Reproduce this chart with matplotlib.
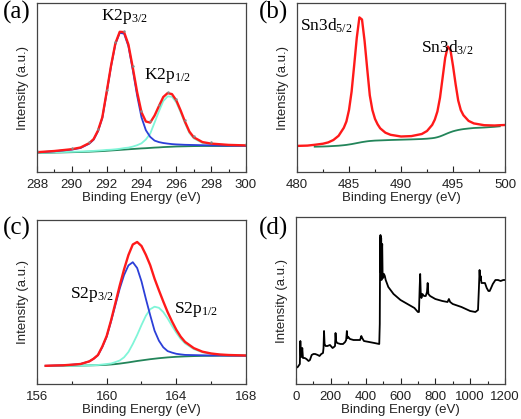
import numpy as np
import matplotlib
matplotlib.use("Agg")
import matplotlib.pyplot as plt
from matplotlib.ticker import MultipleLocator

plt.rcParams['font.family'] = 'Liberation Sans'
plt.rcParams['mathtext.fontset'] = 'custom'
plt.rcParams['mathtext.rm'] = 'Liberation Serif'
plt.rcParams['mathtext.it'] = 'Liberation Serif'

# ---- (a) K 2p ----
k_energy = [288, 289, 290, 290.5, 291, 291.25, 291.5, 291.75, 292, 292.25, 292.5, 292.75,
            293, 293.25, 293.5, 293.75, 294, 294.25, 294.5, 294.75, 295, 295.25, 295.5,
            295.75, 296, 296.25, 296.5, 296.75, 297, 297.5, 298, 299, 300]
k_bg = [19, 19.4, 19.8, 20, 20.3, 20.5, 20.7, 20.9, 21.2, 21.5, 21.8, 22.1,
        22.4, 22.7, 23, 23.3, 23.6, 23.8, 24.1, 24.4, 24.6, 24.9, 25.1,
        25.3, 25.5, 25.6, 25.7, 25.8, 25.9, 26, 26, 26, 26]
k_p32 = [0.6, 1.3, 2.6, 4.0, 8.0, 11.8, 20, 33, 58, 84, 106, 117,
         116, 103, 79, 53, 31, 18, 11, 7, 5.3, 4.1, 3.3,
         2.6, 2.1, 1.8, 1.5, 1.3, 1.1, 0.8, 0.6, 0.3, 0.2]
k_p12 = [0.2, 0.3, 0.4, 0.5, 0.6, 0.6, 0.7, 0.8, 0.9, 0.8, 0.9, 1.1,
         1.5, 1.7, 2.4, 3.5, 5.1, 8.7, 14.3, 25, 36, 46, 50.5,
         50, 44, 34, 23, 13.3, 7.7, 3.1, 1.8, 0.8, 0.4]

# ---- (b) Sn 3d ----
sn_energy = [480, 481, 481.7, 482.5, 483, 483.5, 484, 484.5, 484.75, 485, 485.25, 485.5,
             485.75, 486, 486.25, 486.5, 486.75, 487, 487.25, 487.5, 487.75, 488, 488.5,
             489, 490, 491, 492, 492.5, 493, 493.25, 493.5, 493.75, 494, 494.25, 494.5,
             494.75, 495, 495.25, 495.5, 495.75, 496, 496.5, 497, 498, 499, 499.5, 500]
sn_bg = [25, 25, 25.3, 25.5, 25.7, 26, 26.3, 26.8, 27.1, 27.5, 27.9, 28.4,
         28.9, 29.4, 29.9, 30.3, 30.7, 31, 31.2, 31.4, 31.5, 31.6, 31.8,
         32, 32.3, 32.6, 33, 33.3, 33.8, 34.2, 34.8, 35.6, 36.6, 37.7, 38.8,
         39.8, 40.7, 41.4, 42, 42.5, 42.9, 43.5, 44, 44.5, 45.2, 45.7, 46]
sn_d52 = [0.9, 1.2, 1.6, 2.5, 3.6, 5.6, 9.5, 17, 23, 34, 52, 78,
          105, 124.7, 122, 100, 72, 45, 30, 21, 15.5, 11.3, 6.6,
          4.2, 2.1, 1.4, 1, 0.9, 0.8, 0.7, 0.7, 0.7, 0.6, 0.6, 0.6,
          0.5, 0.5, 0.5, 0.5, 0.4, 0.4, 0.4, 0.3, 0.3, 0.2, 0.2, 0.2]
sn_d32 = [0.2, 0.2, 0.3, 0.3, 0.3, 0.4, 0.4, 0.4, 0.4, 0.5, 0.5, 0.5,
          0.5, 0.5, 0.6, 0.6, 0.6, 0.6, 0.7, 0.7, 0.7, 0.8, 0.9,
          1.0, 1.1, 1.9, 4.0, 6.8, 12.5, 17.5, 25, 38, 57, 76, 86,
          82, 65, 46, 29, 19, 13.5, 7.2, 4.3, 2.0, 1.1, 0.9, 0.8]

# ---- (c) S 2p ----
s_energy = [156.5, 157, 157.5, 158, 158.5, 159, 159.25, 159.5, 159.75, 160, 160.25, 160.5,
            160.75, 161, 161.25, 161.5, 161.75, 162, 162.25, 162.5, 162.75, 163, 163.25,
            163.5, 163.75, 164, 164.25, 164.5, 165, 165.5, 166, 166.5, 167, 168]
s_bg = [18, 18.1, 18.2, 18.3, 18.4, 18.6, 18.7, 18.8, 19, 19.2, 19.5, 19.9,
        20.4, 21, 21.6, 22.3, 23, 23.6, 24.2, 24.8, 25.3, 25.8, 26.2,
        26.6, 26.9, 27.2, 27.4, 27.6, 27.9, 28.1, 28.2, 28.3, 28.3, 28.3]
s_p32 = [0.2, 0.4, 0.5, 1.0, 1.6, 4.0, 6.5, 10, 18, 28, 43, 59,
         75, 88, 97, 99.5, 93, 79, 61, 44, 28, 17.5, 10.5,
         6.3, 4.5, 3, 2.2, 1.5, 1.0, 0.6, 0.3, 0.2, 0.1, 0]
s_p12 = [0, 0, 0, 0, 0, 0, 0.1, 0.2, 0.5, 0.8, 1.0, 2.0,
         3.1, 5.7, 10.4, 17.7, 26, 35.4, 44, 50, 52, 50.4, 45.8,
         39, 31.2, 24, 17.7, 13, 7, 3.6, 2, 1, 0.6, 0.2]

# ---- (d) survey ----
sv_energy = [0, 10, 18, 22, 25, 28, 32, 36, 40, 50, 60, 72, 80, 90, 100, 110, 125, 135,
             145, 155, 158, 161, 164, 170, 180, 195, 210, 218, 224, 227, 230, 236, 255,
             270, 282, 288, 292, 295, 300, 310, 330, 350, 368, 375, 380, 390, 420, 450,
             478, 481, 483, 485, 486, 487, 488, 489, 491, 493, 495, 497, 500, 505, 510,
             515, 530, 560, 600, 640, 680, 700, 706, 710, 713, 716, 720, 726, 735, 745,
             752, 756, 760, 770, 800, 840, 870, 878, 885, 900, 950, 1000, 1030, 1045,
             1050, 1054, 1057, 1060, 1065, 1075, 1085, 1095, 1105, 1112, 1120, 1130,
             1145, 1160, 1175, 1190, 1200]
sv_counts = [16, 17, 19, 20, 43, 28, 27, 36, 26, 26, 25, 23, 24, 29, 30, 30, 29, 28,
             30, 31, 36, 53, 40, 38, 38, 39, 36, 37, 38, 51, 43, 41, 40,
             40, 42, 44, 53, 46, 47, 45, 44, 44, 44, 48, 46, 43, 42, 41,
             40, 60, 138, 149, 112, 147, 118, 146, 104, 132, 140, 112, 106, 110, 108,
             104, 97, 90, 84, 80, 76, 72, 72, 96, 110, 92, 86, 90, 88, 88,
             92, 101, 90, 88, 85, 83, 82, 85, 82, 80, 77, 73, 72, 74,
             95, 114, 104, 108, 101, 101, 101, 96, 93, 93, 96, 100,
             104, 104, 103, 104, 104]

RED = '#ff1a1a'
BLUE = '#2c3fd8'
CYAN = '#80f5d8'
GREEN = '#23855a'
SERIF = 'Liberation Serif'

W, H = 521, 419
fig = plt.figure(figsize=(W / 100, H / 100), dpi=100)


def make_axes(rect, xlim, ylim, major, minor):
    ax = fig.add_axes(rect)
    ax.set_xlim(xlim)
    ax.set_ylim(ylim)
    ax.xaxis.set_major_locator(MultipleLocator(major))
    ax.xaxis.set_minor_locator(MultipleLocator(minor))
    ax.set_yticks([])
    ax.tick_params(axis='x', which='both', direction='in', top=False, labelsize=9.5,
                   colors='#222222', pad=5)
    ax.tick_params(axis='x', which='major', length=4, width=0.8)
    ax.tick_params(axis='x', which='minor', length=2.5, width=0.8)
    for s in ax.spines.values():
        s.set_color('#444444')
        s.set_linewidth(0.9)
    ax.set_xlabel('Binding Energy (eV)', fontsize=9.5, color='#222222', labelpad=1)
    ax.set_ylabel('Intensity (a.u.)', fontsize=9.5, color='#222222', labelpad=6)
    return ax


def label(x, y, s, size=12.5):
    # positions given in pixels from the top-left corner
    fig.text(x / W, 1 - y / H, s, fontsize=size, family=SERIF, ha='center', va='center')


# (a)
ax = make_axes([37 / W, 1 - 172 / H, 209 / W, 169 / H], (288, 300), (0, 169), 2, 1)
e = np.array(k_energy)
bg = np.array(k_bg)
env = bg + np.array(k_p32) + np.array(k_p12)
ax.plot(e, bg, color=GREEN, lw=1.3)
ax.plot(e, bg + np.array(k_p12), color=CYAN, lw=1.3)
ax.plot(e, bg + np.array(k_p32), color=BLUE, lw=1.3)
ax.plot(e, env, color=RED, lw=1.7)
ax.plot(e[::2], env[::2] + 1.5, ls='none', marker='.', ms=1.5, color='#8a8a8a')
label(124, 16, 'K2p$_{3/2}$')
label(167, 75, 'K2p$_{1/2}$')

# (b)
ax = make_axes([297 / W, 1 - 172 / H, 208 / W, 169 / H], (480, 500), (0, 169), 5, 2.5)
e = np.array(sn_energy)
bg = np.array(sn_bg)
env = bg + np.array(sn_d52) + np.array(sn_d32)
m = (e >= 481.7) & (e <= 499.5)
ax.plot(e[m], bg[m], color=GREEN, lw=1.3)
ax.plot(e, env, color=RED, lw=1.7)
label(326, 26, 'Sn3d$_{5/2}$')
label(447, 48, 'Sn3d$_{3/2}$')

# (c)
ax = make_axes([37 / W, 1 - 384 / H, 209 / W, 164 / H], (156, 168), (0, 164), 4, 2)
e = np.array(s_energy)
bg = np.array(s_bg)
env = bg + np.array(s_p32) + np.array(s_p12)
ax.plot(e, bg, color=GREEN, lw=1.3)
ax.plot(e, bg + np.array(s_p12), color=CYAN, lw=1.3)
ax.plot(e, bg + np.array(s_p32), color=BLUE, lw=1.3)
ax.plot(e, env, color=RED, lw=1.7)
label(92, 294, 'S2p$_{3/2}$')
label(196, 309, 'S2p$_{1/2}$')

# (d)
ax = make_axes([296 / W, 1 - 384 / H, 209 / W, 167 / H], (0, 1200), (0, 167), 200, 100)
ax.plot(sv_energy, sv_counts, color='black', lw=1.3)

for lab, x, y in [('(a)', 17, 12), ('(b)', 274, 12), ('(c)', 17, 228), ('(d)', 274, 228)]:
    label(x, y, lab, size=18)

fig.savefig('out.png', dpi=100)
